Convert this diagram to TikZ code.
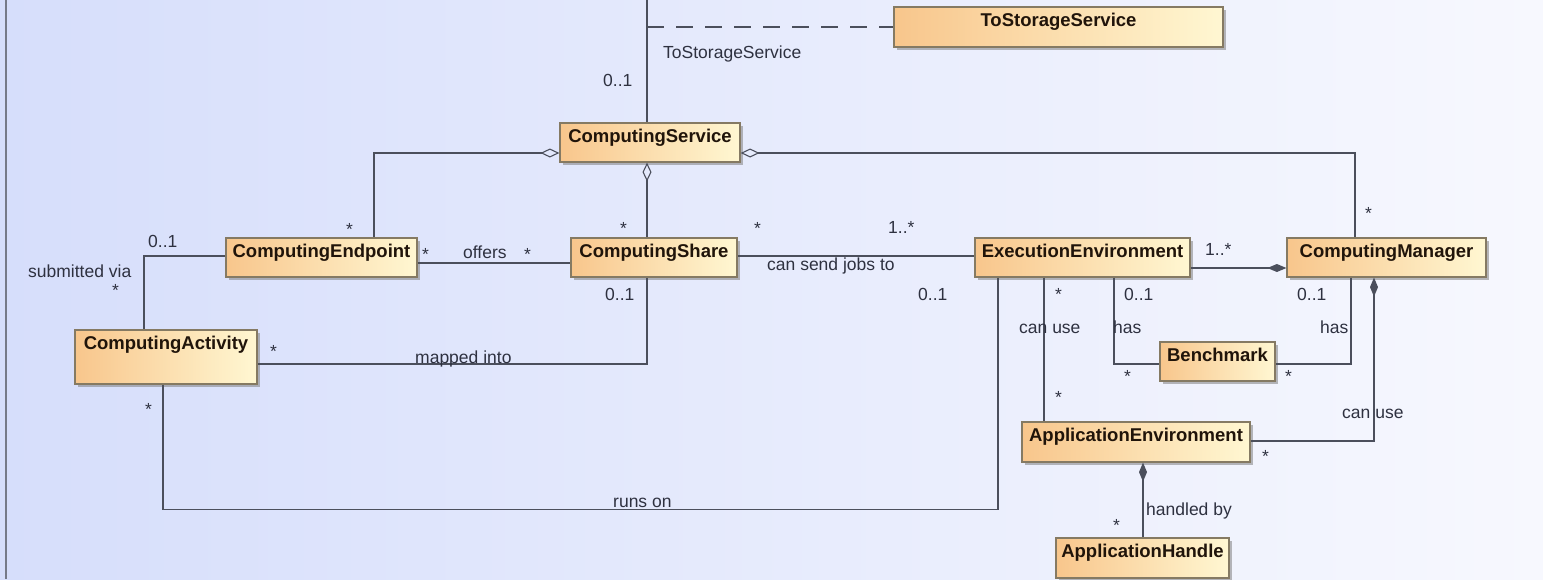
\documentclass[tikz,border=0pt]{standalone}
\usepackage{fontspec}
\setmainfont{Liberation Sans}
\usetikzlibrary{arrows.meta,shadows,fit,calc}
\definecolor{bgL}{HTML}{D6DEFB}
\definecolor{bgR}{HTML}{F7F8FE}
\definecolor{boxO}{HTML}{F8C68C}
\definecolor{boxY}{HTML}{FFF7D2}
\definecolor{boxB}{HTML}{857A63}
\definecolor{lineC}{HTML}{4B4F5C}
\definecolor{txtC}{HTML}{2E3140}
\definecolor{clsT}{HTML}{20140A}
\definecolor{frameC}{HTML}{767A88}
\tikzset{
 clsbox/.style={draw=boxB, line width=1.2pt, left color=boxO, right color=boxY, inner sep=0pt,
   drop shadow={shadow xshift=2.5pt, shadow yshift=-2.5pt, fill=black!50, opacity=0.55}},
 clstext/.style={anchor=base, inner sep=0pt, text=clsT, font=\bfseries\fontsize{18.5}{20}\selectfont},
 lbl/.style={anchor=base west, inner sep=0pt, text=txtC, font=\fontsize{17.5}{20}\selectfont},
 conn/.style={draw=lineC, line width=1.3pt},
 odia/.style={conn, {Diamond[open, length=19pt, width=9pt, line width=1.1pt]}-},
 fdiaS/.style={conn, {Diamond[length=19pt, width=8pt]}-},
 fdiaE/.style={conn, -{Diamond[length=19pt, width=8pt]}},
}
\newcommand\lb[3]{\node[lbl] (#1) at (#2) {#3};}
\newcommand\umlcls[4]{\node[clsbox, fit={(#2) (#3)}] (#1) {};
  \node[clstext] (#1t) at ([yshift=-20.5pt]#1.north) {#4};}
\begin{document}
\begin{tikzpicture}[x=1pt,y=-1pt]
\useasboundingbox (0,0) rectangle (1543,579);
\shade[left color=bgL, right color=bgR] (0,0) rectangle (1543,579);
\draw[frameC, line width=1.5pt] (6,0) -- (6,579);

% classes
\umlcls{TS}{894,7}{1223,47}{ToStorageService}
\umlcls{CS}{560,123}{740,162}{ComputingService}
\umlcls{CE}{226,238}{417,277}{ComputingEndpoint}
\umlcls{CSh}{571,238}{737,277}{ComputingShare}
\umlcls{EE}{975,238}{1190,277}{ExecutionEnvironment}
\umlcls{CM}{1287,238}{1486,277}{ComputingManager}
\umlcls{CA}{75,330}{257,384}{ComputingActivity}
\umlcls{BM}{1160,342}{1275,381}{Benchmark}
\umlcls{AE}{1022,422}{1250,462}{ApplicationEnvironment}
\umlcls{AH}{1056,538}{1229,578}{ApplicationHandle}

% connectors
\coordinate (top) at (647,0);
\coordinate (tsj) at (647,27);
\draw[conn] (top) -- (top |- CS.north);
\draw[conn, dash pattern=on 17pt off 12pt] (tsj) -- (TS.west |- tsj);
\draw[odia] ([yshift=-10.5pt]CS.west) -| ([xshift=52.5pt]CE.north);
\draw[odia] (CS.south -| top) -- (CSh.north -| top);
\draw[odia] ([yshift=-10.5pt]CS.east) -| ([xshift=-31.5pt]CM.north);
\draw[conn] ([yshift=-5.5pt]CE.east) -- ([yshift=-5.5pt]CE.east -| CSh.west);
\draw[conn] ([yshift=1.5pt]CE.west) -| ([xshift=-22pt]CA.north);
\draw[conn] ([yshift=-7pt]CA.east) -| ([xshift=-7pt]CSh.south);
\draw[conn] ([yshift=1.5pt]CSh.east) -- ([yshift=1.5pt]CSh.east -| EE.west);
\draw[conn] ([xshift=-3pt]CA.south) -- ++(0,125) -| ([xshift=-84.5pt]EE.south);
\draw[conn] ([xshift=-38.5pt]EE.south) -- ([xshift=-38.5pt]EE.south |- AE.north);
\draw[conn] ([xshift=31.5pt]EE.south) |- ([yshift=-2.5pt]BM.west);
\draw[conn] ([xshift=-35.5pt]CM.south) |- ([yshift=-2.5pt]BM.east);
\draw[fdiaE] ([yshift=-10.5pt]EE.east) -- ([yshift=-10.5pt]EE.east -| CM.west);
\draw[fdiaS] ([xshift=-12.5pt]CM.south) |- ([yshift=1pt]AE.east);
\draw[fdiaS] ([xshift=7pt]AE.south) -- ([xshift=7pt]AE.south |- AH.north);

% labels
\lb{l1}{663,58}{ToStorageService}
\lb{l2}{603,86}{0..1}
\lb{l3}{346,235}{*}
\lb{l4}{148,247}{0..1}
\lb{l5}{28,277}{submitted via}
\lb{l6}{112,296}{*}
\lb{l7}{422,260}{*}
\lb{l8}{463,258}{offers}
\lb{l9}{270,357}{*}
\lb{l10}{415,363}{mapped into}
\lb{l11}{620,234}{*}
\lb{l12}{524,260}{*}
\lb{l13}{754,234}{*}
\lb{l14}{888,233}{1..*}
\lb{l15}{767,270}{can send jobs to}
\lb{l16}{605,300}{0..1}
\lb{l17}{918,300}{0..1}
\lb{l18}{1365,219}{*}
\lb{l19}{1205,255}{1..*}
\lb{l20}{1055,300}{*}
\lb{l21}{1124,300}{0..1}
\lb{l22}{1297,300}{0..1}
\lb{l23}{1019,333}{can use}
\lb{l24}{1113,333}{has}
\lb{l25}{1320,333}{has}
\lb{l26}{1124,382}{*}
\lb{l27}{1285,382}{*}
\lb{l28}{1055,403}{*}
\lb{l29}{145,415}{*}
\lb{l30}{613,507}{runs on}
\lb{l31}{1342,418}{can use}
\lb{l32}{1262,462}{*}
\lb{l33}{1146,515}{handled by}
\lb{l34}{1113,531}{*}
\end{tikzpicture}
\end{document}
